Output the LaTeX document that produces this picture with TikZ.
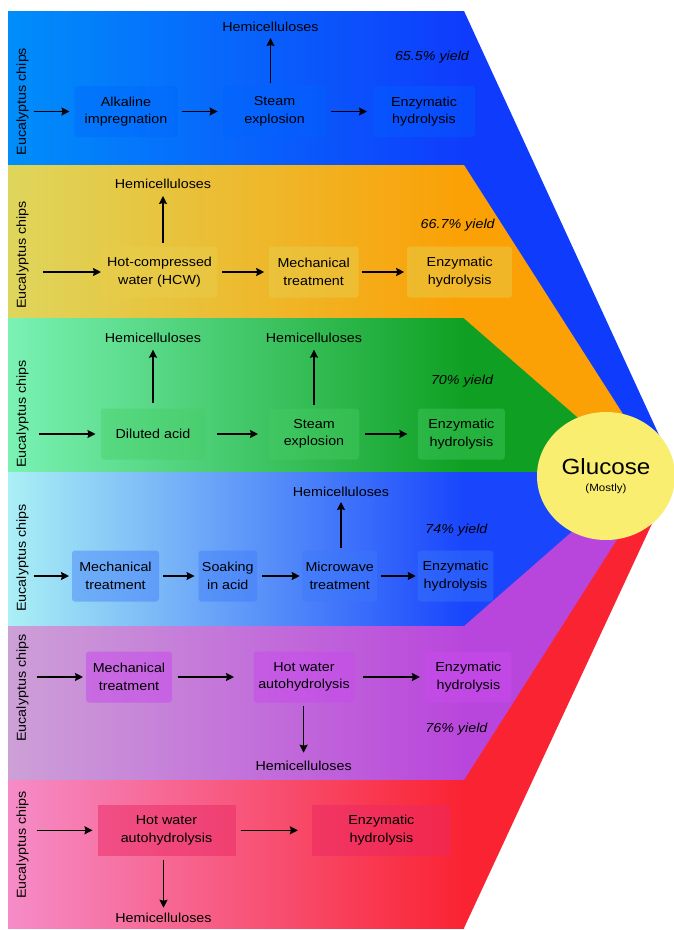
\documentclass[tikz,border=0pt]{standalone}
\usepackage{xcolor}
\usepackage{tikz}
\usetikzlibrary{shapes.geometric, arrows, arrows.meta, calc}
\usepackage{fontspec}
\setmainfont{Liberation Sans}[FakeStretch=1.1]

\definecolor{blueL}{RGB}{0,142,250}
\definecolor{blueR}{RGB}{15,60,252}
\definecolor{yelL}{RGB}{222,214,92}
\definecolor{orgR}{RGB}{251,160,5}
\definecolor{mintL}{RGB}{122,242,180}
\definecolor{grnR}{RGB}{15,160,35}
\definecolor{cyanL}{RGB}{170,240,245}
\definecolor{blueRR}{RGB}{25,70,252}
\definecolor{lilacL}{RGB}{205,160,215}
\definecolor{purpR}{RGB}{185,70,220}
\definecolor{pinkL}{RGB}{245,140,200}
\definecolor{redR}{RGB}{250,35,50}
\definecolor{glucoseY}{RGB}{249,238,112}
\definecolor{box1}{RGB}{0,100,255}
\definecolor{box2}{RGB}{232,205,75}
\definecolor{box3}{RGB}{70,205,100}
\definecolor{box4}{RGB}{60,120,250}
\definecolor{box5}{RGB}{200,75,235}
\definecolor{box6}{RGB}{235,40,100}

\begin{document}
\begin{tikzpicture}[x=1pt, y=-1pt, font=\fontsize{13}{17.5}\selectfont]

\tikzstyle{stage} = [rectangle, rounded corners=3pt, text centered, align=center, minimum height=51pt, inner sep=0pt, outer sep=0pt, text opacity=1]
\tikzstyle{stage1} = [stage, fill=box1, fill opacity=0.35]
\tikzstyle{stage2} = [stage, fill=box2, fill opacity=0.5]
\tikzstyle{stage3} = [stage, fill=box3, fill opacity=0.4]
\tikzstyle{stage4} = [stage, fill=box4, fill opacity=0.42]
\tikzstyle{stage5} = [stage, fill=box5, fill opacity=0.55]
\tikzstyle{stage6} = [stage, sharp corners, fill=box6, fill opacity=0.5]
\tikzstyle{feed} = [rotate=90, inner sep=0pt]
\tikzstyle{hemi} = [inner sep=0pt]
\tikzstyle{yield} = [font=\fontsize{13}{15}\selectfont\itshape]
\tikzstyle{glucose} = [ellipse, fill=glucoseY, minimum width=138pt, minimum height=128pt, align=center, inner sep=0pt]

\tikzstyle{arrow} = [line width=1.6pt,->,>={Stealth[length=8pt,width=8pt,inset=1pt]}]

\useasboundingbox (0,0) rectangle (674,930);
\fill[white] (0,0) rectangle (674,930);

% funnels towards glucose
\fill[blueR] (460,11) -- (464,11) -- (676,472) -- (460,472) -- cycle;
\fill[redR] (460,928) -- (464,928) -- (676,472) -- (460,472) -- cycle;
\fill[orgR] (460,165) -- (464,165) -- (660,472) -- (460,472) -- cycle;
\fill[purpR] (460,780) -- (464,780) -- (660,472) -- (460,472) -- cycle;
\fill[grnR] (460,318.5) -- (464,318.5) -- (640,472) -- (460,472) -- cycle;
\fill[blueRR] (460,626) -- (464,626) -- (640,472) -- (460,472) -- cycle;

% bands
\shade[left color=blueL, right color=blueR] (8,11) rectangle (464,165);
\shade[left color=yelL, right color=orgR] (8,165) rectangle (464,318.5);
\shade[left color=mintL, right color=grnR] (8,318.5) rectangle (464,472);
\shade[left color=cyanL, right color=blueRR] (8,472) rectangle (464,626);
\shade[left color=lilacL, right color=purpR] (8,626) rectangle (464,780);
\shade[left color=pinkL, right color=redR] (8,780) rectangle (464,928);

% band 1
\node (ec1) [feed] at (22.5,101.5) {Eucalyptus chips};
\coordinate (in1) at (33.5,111.5);
\node (ai1) [stage1, minimum width=103pt] at (126,111.5) {Alkaline\\impregnation};
\node (se1) [stage1, minimum width=104pt] at (274.6,111.5) {Steam\\explosion};
\node (eh1) [stage1, minimum width=102pt] at (424,111.5) {Enzymatic\\hydrolysis};
\node (hc1) [hemi] at (270.5,27) {Hemicelluloses};
\node (y1) [yield] at (432,57) {65.5\% yield};

% band 2
\node (ec2) [feed] at (22.5,255) {Eucalyptus chips};
\coordinate (in2) at (43,272);
\node (hw2) [stage2, minimum width=115pt] at (159.5,272) {Hot-compressed\\water (HCW)};
\node (mt2) [stage2, minimum width=90pt] at (313.7,272) {Mechanical\\treatment};
\node (eh2) [stage2, minimum width=105pt] at (459.7,272) {Enzymatic\\hydrolysis};
\node (hc2) [hemi] at (163,184) {Hemicelluloses};
\node (y2) [yield] at (457.7,225) {66.7\% yield};

% band 3
\node (ec3) [feed] at (22.5,414) {Eucalyptus chips};
\coordinate (in3) at (38.7,434);
\node (da3) [stage3, minimum width=104pt] at (153,434) {Diluted acid};
\node (se3) [stage3, minimum width=90pt] at (314,434) {Steam\\explosion};
\node (eh3) [stage3, minimum width=87pt] at (461.4,434) {Enzymatic\\hydrolysis};
\node (hc3) [hemi] at (153,337.7) {Hemicelluloses};
\node (hc3b) [hemi] at (314,337.7) {Hemicelluloses};
\node (y3) [yield] at (462,381) {70\% yield};

% band 4
\node (ec4) [feed] at (22.5,558) {Eucalyptus chips};
\coordinate (in4) at (33.5,576);
\node (mt4) [stage4, minimum width=87pt] at (115.5,576) {Mechanical\\treatment};
\node (sa4) [stage4, minimum width=58.5pt] at (227.8,576) {Soaking\\in acid};
\node (mw4) [stage4, minimum width=75pt] at (339.7,576) {Microwave\\treatment};
\node (eh4) [stage4, minimum width=75.5pt] at (455.5,576) {Enzymatic\\hydrolysis};
\node (hc4) [hemi] at (341,492) {Hemicelluloses};
\node (y4) [yield] at (456.4,530) {74\% yield};

% band 5
\node (ec5) [feed] at (22.5,688) {Eucalyptus chips};
\coordinate (in5) at (36.5,677);
\node (mt5) [stage5, minimum width=86pt] at (129,677) {Mechanical\\treatment};
\node (hw5) [stage5, minimum width=101pt] at (304,677) {Hot water\\autohydrolysis};
\node (eh5) [stage5, minimum width=86pt] at (468.4,677) {Enzymatic\\hydrolysis};
\node (hc5) [hemi] at (303.6,765.7) {Hemicelluloses};
\node (y5) [yield] at (456.4,729) {76\% yield};

% band 6
\node (ec6) [feed] at (22.5,845) {Eucalyptus chips};
\coordinate (in6) at (36.5,830.3);
\node (hw6) [stage6, minimum width=138pt] at (166.5,830.3) {Hot water\\autohydrolysis};
\node (eh6) [stage6, minimum width=138pt] at (381.4,830.3) {Enzymatic\\hydrolysis};
\node (hc6) [hemi] at (163.5,917.7) {Hemicelluloses};

\node (gl) [glucose] at (606,476) {{\fontsize{22}{15}\selectfont Glucose}\\{\fontsize{10.5}{12}\selectfont (Mostly)}};

\draw [arrow, shorten >=5pt] (in1) -- (ai1);
\draw [arrow, shorten <=4pt, shorten >=5pt] (ai1) -- (se1);
\draw [arrow, shorten <=4.5pt, shorten >=6pt] (se1) -- (eh1);
\draw [arrow, shorten <=3pt, shorten >=6pt] (hc1 |- se1.north) -- (hc1.south);

\draw [arrow, shorten >=1pt] (in2) -- (hw2);
\draw [arrow, shorten <=5pt, shorten >=4.5pt] (hw2) -- (mt2);
\draw [arrow, shorten <=3pt, shorten >=3pt] (mt2) -- (eh2);
\draw [arrow, shorten <=4pt, shorten >=7pt] (hc2 |- hw2.north) -- (hc2.south);

\draw [arrow, shorten >=5.5pt] (in3) -- (da3);
\draw [arrow, shorten <=12pt, shorten >=11pt] (da3) -- (se3);
\draw [arrow, shorten <=6pt, shorten >=10.5pt] (se3) -- (eh3);
\draw [arrow, shorten <=6pt, shorten >=7pt] (hc3 |- da3.north) -- (hc3.south);
\draw [arrow, shorten <=4pt, shorten >=7pt] (hc3b |- se3.north) -- (hc3b.south);

\draw [arrow, shorten >=3pt] (in4) -- (mt4);
\draw [arrow, shorten <=4pt, shorten >=4pt] (mt4) -- (sa4);
\draw [arrow, shorten <=5pt, shorten >=2.5pt] (sa4) -- (mw4);
\draw [arrow, shorten <=4pt, shorten >=2pt] (mw4) -- (eh4);
\draw [arrow, shorten <=3pt, shorten >=5pt] (hc4 |- mw4.north) -- (hc4.south);

\draw [arrow, shorten >=3pt] (in5) -- (mt5);
\draw [arrow, shorten <=5.5pt, shorten >=19.5pt] (mt5) -- (hw5);
\draw [arrow, shorten <=8.5pt, shorten >=5.5pt] (hw5) -- (eh5);
\draw [arrow, shorten <=3pt, shorten >=8pt] (hc5 |- hw5.south) -- (hc5.north);

\draw [arrow, shorten >=5pt] (in6) -- (hw6);
\draw [arrow, shorten <=5pt, shorten >=14.5pt] (hw6) -- (eh6);
\draw [arrow, shorten <=4pt, shorten >=5pt] (hc6 |- hw6.south) -- (hc6.north);

\end{tikzpicture}
\end{document}
